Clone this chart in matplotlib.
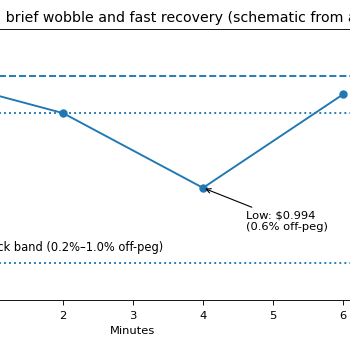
import matplotlib.pyplot as plt

minutes = [0, 2, 4, 6]
price = [1.000, 0.998, 0.994, 0.999]
peg = 1.000
band_lo = 0.998
band_hi = 0.990
low_label = 'Low: $0.994\n(0.6% off-peg)'
band_label = 'Typical shock band (0.2%–1.0% off-peg)'
title_head = 'USDC peg: a '
title_tail = 'brief wobble and fast recovery (schematic from article)'

plt.rcParams['font.size'] = 10.3
plt.rcParams['lines.linewidth'] = 1.7

fig = plt.figure(figsize=(4.375, 4.375), dpi=80)
# axes deliberately wider than the figure (the reference is a crop)
ax_left_px, ax_width_px = -98, 462
ax = fig.add_axes([ax_left_px / 350, 50 / 350, ax_width_px / 350, 271 / 350])

ax.plot(minutes, price, marker='o', markersize=6.5, color='C0')
ax.axhline(peg, linestyle='--', color='C0')
ax.axhline(band_lo, linestyle=':', color='C0')
ax.axhline(band_hi, linestyle=':', color='C0')

ax.text(3.43, band_hi + 0.00045, band_label, ha='right', va='bottom', fontsize=10.4)
ax.annotate(low_label, xy=(4, 0.994), xytext=(4.61, 0.9928),
            va='top', arrowprops=dict(arrowstyle='->', color='black'))

ax.set_xlim(-0.3, 6.3)
ax.set_ylim(0.988, 1.0025)
ax.tick_params(axis='x', length=4.5, pad=5)
ax.set_xlabel('Minutes', labelpad=5)

# place the title so "brief" begins a few px in from the left edge
title_size = 12.7
r = fig.canvas.get_renderer()
probe = fig.text(0, 0, title_head + 'b', fontsize=title_size)
w_head = probe.get_window_extent(r).width
probe.set_text('b')
w_head -= probe.get_window_extent(r).width
probe.remove()
start_px = 6 - w_head
ax.set_title(title_head + title_tail, fontsize=title_size, loc='left',
             x=(start_px - ax_left_px) / ax_width_px)

plt.savefig('out.png', dpi=80)
